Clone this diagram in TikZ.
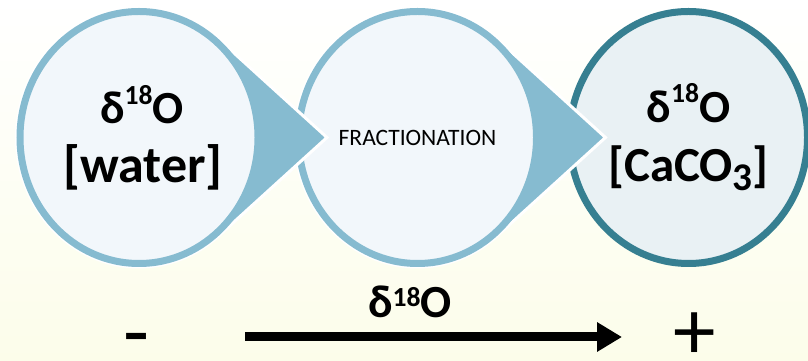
\documentclass[tikz,border=0pt]{standalone}
\usepackage{fontspec}
\setmainfont{Carlito}
\usetikzlibrary{arrows.meta,positioning,shapes.geometric,calc}
\definecolor{ringblue}{HTML}{86BBD0}
\definecolor{ringteal}{HTML}{367F91}
\definecolor{softblue}{HTML}{F2F7FB}
\definecolor{softteal}{HTML}{E9F1F4}
\definecolor{softcream}{HTML}{FCFDEA}
\newcommand{\dO}[1][.42em]{δ\raisebox{#1}{\scalebox{.6}{18}}O}
\newcommand{\bigline}[2][52]{{\fontsize{#1}{60}\selectfont #2}}
% pointer of a circle, drawn under it
\newcommand{\pointer}[1]{%
 \begin{scope}[shift={(#1)},xscale=0.946]
  \filldraw[white,line width=3pt,fill=ringblue] (49.3:129.5) arc[start angle=49.3,end angle=310.7,radius=129.5] -- (198.7,0) -- cycle;
 \end{scope}}

\begin{document}
\begin{tikzpicture}[x=1pt,y=1pt,
 ring/.style={ellipse,draw=ringblue,line width=7pt,fill=softblue,inner sep=0pt,minimum width=238pt,minimum height=252pt,align=center,font=\bfseries\fontsize{46}{59}\selectfont},
 sign/.style={anchor=base,inner sep=0pt,font=\fontsize{85}{85}\selectfont},
 arr/.style={-{Triangle[length=25pt,width=28pt]},line width=9pt}
]
\useasboundingbox (0,0) rectangle (808,361);
\shade[top color=white,bottom color=softcream] (0,0) rectangle (808,361);
\clip (0,0) rectangle (808,361);
\coordinate (cw) at (139,223.5);
\coordinate (cf) at (417.5,223.5);
\coordinate (cc) at (688.5,223.5);

\node[ring,draw=ringteal,fill=softteal] (caco) at (cc) {\dO\\\bigline[49]{[CaCO\raisebox{-.2em}{\scalebox{.8}{3}}]}};
\pointer{cf}
\node[ring,font=\fontsize{23.5}{28}\selectfont] (frac) at (cf) {FRACTIONATION};
\pointer{cw}
\node[ring] (water) at (cw) {\hspace{6pt}\dO\\\hspace{8pt}\bigline{[water]}};

\node[anchor=base,font=\bfseries\fontsize{46}{46}\selectfont] (shift) at (410,43) {\dO[.24em]};
\coordinate (lo) at (245,24);
\coordinate (hi) at (622,24);
\draw[arr] (lo) -- (hi);
\node[sign] (minus) at (137,0.5) {-};
\node[sign] (plus) at (695,1.5) {+};
\end{tikzpicture}
\end{document}
